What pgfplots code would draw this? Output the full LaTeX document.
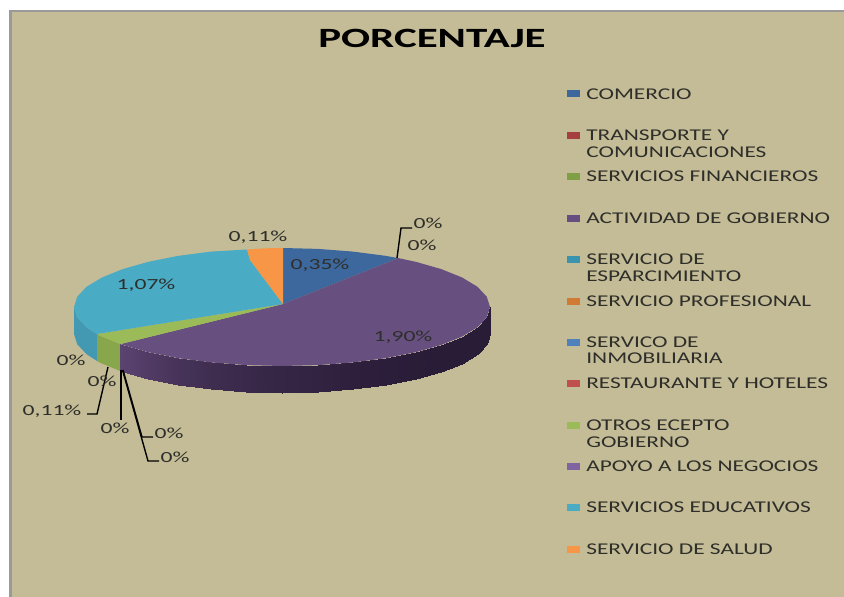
\documentclass[border=0pt]{standalone}
\usepackage{pgfplots}
\usepackage{fontspec}
\setmainfont{Carlito}
\pgfplotsset{compat=1.18}
\definecolor{chartbg}{HTML}{C4BC96}
\definecolor{framegrey}{HTML}{9A9A98}
\definecolor{txt}{HTML}{2E2E2A}
\definecolor{piecom}{HTML}{3C689E}
\definecolor{piegob}{HTML}{674F80}
\definecolor{pieotr}{HTML}{9BBB59}
\definecolor{pieedu}{HTML}{4AABC5}
\definecolor{piesal}{HTML}{F79646}
\definecolor{wallotr}{HTML}{88A64C}
\definecolor{walledu}{HTML}{4499B2}
\newcommand{\lab}[3]{\node[anchor=west,inner sep=0pt,text=txt,font=\fontsize{16.5}{17}\selectfont,xscale=1.42] at (axis cs:#1,#2) {#3};}
\newcommand{\pct}[3]{\node[inner sep=0pt,text=txt,font=\fontsize{15.5}{16}\selectfont,xscale=1.53] at (axis cs:#1,#2) {#3};}
\newcommand{\swatch}[2]{\addplot[fill=#2,draw=none] coordinates {(567,#1-3.5) (580,#1-3.5) (580,#1+3.5) (567,#1+3.5)} -- cycle;}
\begin{document}
\begin{tikzpicture}
\begin{axis}[
    width=844bp, height=597bp, scale only axis,
    xmin=0, xmax=844, ymin=0, ymax=597,
    y dir=reverse, hide axis, clip=true,
    point meta min=0, point meta max=1,
    colormap={wallpurple}{rgb255=(41,28,55) rgb255=(91,67,112)}
]
% page and chart area
\addplot[fill=white,draw=none] coordinates {(0,0) (844,0) (844,597) (0,597)} -- cycle;
\addplot[fill=framegrey,draw=none] coordinates {(9,10) (844,10) (844,597) (9,597)} -- cycle;
\addplot[fill=chartbg,draw=none] coordinates {(11.5,12) (844,12) (844,597) (11.5,597)} -- cycle;

% side walls
\addplot[fill=walledu,draw=none] coordinates {
    (97,334) (86.5,327.2) (77.2,317.2) (74,307)
    (74,334) (77.2,344.2) (86.5,354.2) (97,361)} -- cycle;
\addplot[fill=wallotr,draw=none] coordinates {
    (97,334) (101.9,336.5) (120.4,344.1) (120.4,371.1) (101.9,363.5) (97,361)} -- cycle;
\addplot[surf,shader=interp,mesh/rows=2,point meta=\thisrow{c}] table {
x y c
120.4 344.1 1.00
122.7 344.9 0.98
148.3 352.2 0.80
178.0 358.1 0.60
210.9 362.4 0.45
245.9 365.1 0.33
282.0 366.0 0.25
318.1 365.1 0.18
353.1 362.4 0.10
386.0 358.1 0.05
415.7 352.2 0.02
441.3 344.9 0.00
462.1 336.5 0.00
477.5 327.2 0.00
486.8 317.2 0.00
490.0 307.0 0.00
120.4 371.1 1.00
122.7 371.9 0.98
148.3 379.2 0.80
178.0 385.1 0.60
210.9 389.4 0.45
245.9 392.1 0.33
282.0 393.0 0.25
318.1 392.1 0.18
353.1 389.4 0.10
386.0 385.1 0.05
415.7 379.2 0.02
441.3 371.9 0.00
462.1 363.5 0.00
477.5 354.2 0.00
486.8 344.2 0.00
490.0 334.0 0.00
};

% top faces
\addplot[fill=piecom,draw=none] coordinates {
    (283,304) (283,248) (318.1,248.9) (353.1,251.6) (386,255.9) (398.3,258.1)} -- cycle;
\addplot[fill=piegob,draw=none] coordinates {
    (283,304) (398.3,258.1) (415.7,261.8) (441.3,269.1) (462.1,277.5) (477.5,286.8)
    (486.8,296.8) (490,307) (486.8,317.2) (477.5,327.2) (462.1,336.5) (441.3,344.9)
    (415.7,352.2) (386,358.1) (353.1,362.4) (318.1,365.1) (282,366) (245.9,365.1)
    (210.9,362.4) (178,358.1) (148.3,352.2) (122.7,344.9) (120.4,344.1)} -- cycle;
\addplot[fill=pieotr,draw=none] coordinates {
    (283,304) (120.4,344.1) (101.9,336.5) (97,334)} -- cycle;
\addplot[fill=pieedu,draw=none] coordinates {
    (283,304) (97,334) (86.5,327.2) (77.2,317.2) (74,307) (77.2,296.8) (86.5,286.8)
    (101.9,277.5) (122.7,269.1) (148.3,261.8) (178,255.9) (210.9,251.6) (247,249.5)
    (250,260)} -- cycle;
\addplot[fill=piesal,draw=none] coordinates {
    (283,304) (250,260) (247,249.5) (265,248.3) (283,248)} -- cycle;

% leader lines
\addplot[black,line width=1.4pt] coordinates {(108,367) (97,414) (87,414)};
\addplot[black,line width=1.4pt] coordinates {(121,370) (121,420)};
\addplot[black,line width=1.4pt] coordinates {(123,370) (142,437) (153,437)};
\addplot[black,line width=1.4pt] coordinates {(122.5,370) (148,461) (159,461)};
\addplot[black,line width=1.4pt] coordinates {(397,258) (401,228) (412,228)};

% legend swatches
\swatch{94}{piecom}
\definecolor{s2}{HTML}{A5403F}\swatch{135}{s2}
\definecolor{s3}{HTML}{7F9F45}\swatch{176}{s3}
\definecolor{s4}{HTML}{664F80}\swatch{218}{s4}
\definecolor{s5}{HTML}{3A93AF}\swatch{259}{s5}
\definecolor{s6}{HTML}{D07A33}\swatch{301}{s6}
\definecolor{s7}{HTML}{4F81BD}\swatch{342}{s7}
\definecolor{s8}{HTML}{C0504D}\swatch{383}{s8}
\swatch{425}{pieotr}
\definecolor{s10}{HTML}{8064A2}\swatch{466}{s10}
\swatch{507}{pieedu}
\swatch{549}{piesal}

% title
\node[inner sep=0pt,text=black,font=\fontsize{28}{30}\bfseries\selectfont,xscale=1.54] at (axis cs:432,38) {PORCENTAJE};

% legend text
\lab{586}{94}{COMERCIO}
\lab{586}{135}{TRANSPORTE Y}
\lab{586}{152}{COMUNICACIONES}
\lab{586}{176}{SERVICIOS FINANCIEROS}
\lab{586}{218}{ACTIVIDAD DE GOBIERNO}
\lab{586}{259}{SERVICIO DE}
\lab{586}{276}{ESPARCIMIENTO}
\lab{586}{301}{SERVICIO PROFESIONAL}
\lab{586}{342}{SERVICO DE}
\lab{586}{358}{INMOBILIARIA}
\lab{586}{383}{RESTAURANTE Y HOTELES}
\lab{586}{425}{OTROS ECEPTO}
\lab{586}{442}{GOBIERNO}
\lab{586}{466}{APOYO A LOS NEGOCIOS}
\lab{586}{507}{SERVICIOS EDUCATIVOS}
\lab{586}{549}{SERVICIO DE SALUD}

% data labels
\pct{258}{237}{0,11\%}
\pct{320}{265}{0,35\%}
\pct{146}{285}{1,07\%}
\pct{403}{337}{1,90\%}
\pct{71}{360}{0\%}
\pct{102}{381}{0\%}
\pct{52}{411.5}{0,11\%}
\pct{115}{428}{0\%}
\pct{169}{433}{0\%}
\pct{175}{457}{0\%}
\pct{428}{223}{0\%}
\pct{422}{245}{0\%}
\end{axis}
\end{tikzpicture}
\end{document}
